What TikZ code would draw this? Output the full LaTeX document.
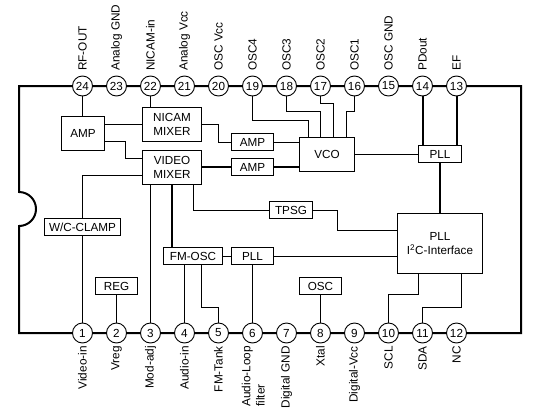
\documentclass[tikz,border=0pt]{standalone}
\usepackage{fontspec}
\setmainfont{Liberation Sans}
\usetikzlibrary{calc}

\begin{document}
\begin{tikzpicture}[x=1pt, y=-1pt, font=\fontsize{11.7}{14}\selectfont,
    box/.style={draw, line width=0.9pt, fill=white, inner sep=0pt, align=center},
    pin/.style={draw, circle, line width=0.9pt, fill=white, inner sep=0pt, minimum size=20pt},
    lab/.style={rotate=90, inner sep=0pt, align=left, font=\fontsize{11.8}{14.4}\selectfont},
    sig/.style={line width=0.9pt},
    bus/.style={line width=2pt}]
    \useasboundingbox (0,0) rectangle (560,413);

    % chip outline with the notch
    \draw[bus, line join=miter] (19,192) -- (19,86) -- (521,86) -- (521,333) -- (19,333) -- (19,226)
        .. controls (28.4,226) and (36,218.4) .. (36,209)
        .. controls (36,199.6) and (28.4,192) .. cycle;

    % pins along the top, labels above them
    \foreach \n/\x/\name in {24/82.5/RF-OUT, 23/116.5/Analog GND, 22/150.5/NICAM-in, 21/184.5/Analog Vcc,
        20/218.5/OSC Vcc, 19/252.5/OSC4, 18/286.5/OSC3, 17/320.5/OSC2, 16/354.5/OSC1, 15/388.5/OSC GND,
        14/422.5/PDout, 13/456.5/EF} {
        \node[pin] (pin\n) at (\x,86) {\n};
        \node[lab, anchor=west] (lab\n) at (\x,71) {\name};
    }

    % pins along the bottom, labels below them
    \foreach \n/\x/\name in {1/82.5/Video-in, 2/116.5/Vreg, 3/150.5/Mod-adj, 4/184.5/Audio-in,
        5/218.5/FM-Tank, 7/286.5/Digital GND, 8/320.5/Xtal, 9/354.5/Digital-Vcc, 10/388.5/SCL,
        11/422.5/SDA, 12/456.5/NC} {
        \node[pin] (pin\n) at (\x,333) {\n};
        \node[lab, anchor=east] (lab\n) at (\x,346) {\name};
    }
    \node[pin] (pin6) at (252.5,333) {6};
    \node[lab, anchor=north east] (lab6) at (241.5,346) {Audio-Loop\\filter};

    % blocks
    \node[box, minimum width=43pt, minimum height=34pt] (amp1) at (83,133.5) {AMP};
    \node[box, minimum width=59pt, minimum height=34pt] (nicam) at (172,124.5) {NICAM\\MIXER};
    \node[box, minimum width=59pt, minimum height=34pt] (video) at (172,167.5) {VIDEO\\MIXER};
    \node[box, minimum width=42pt, minimum height=17pt] (amp2) at (252.5,142) {AMP};
    \node[box, minimum width=42pt, minimum height=17pt] (amp3) at (252.5,167) {AMP};
    \node[box, minimum width=55pt, minimum height=34pt] (vco) at (327,154.5) {VCO};
    \node[box, minimum width=43pt, minimum height=17pt] (pll1) at (440,154) {PLL};
    \node[box, minimum width=43pt, minimum height=17pt] (tpsg) at (291,210) {TPSG};
    \node[box, minimum width=85pt, minimum height=60pt] (pll2) at (440,243.5) {PLL\\I\textsuperscript{2}C-Interface};
    \node[box, minimum width=76pt, minimum height=17pt] (clamp) at (82.5,227) {W/C-CLAMP};
    \node[box, minimum width=42pt, minimum height=17pt] (reg) at (116.5,286) {REG};
    \node[box, minimum width=59pt, minimum height=17pt] (fmosc) at (193,256) {FM-OSC};
    \node[box, minimum width=42pt, minimum height=17pt] (pll3) at (252.5,256) {PLL};
    \node[box, minimum width=42pt, minimum height=17pt] (osc) at (320.5,286) {OSC};

    % thin signal lines
    \draw[sig] (pin24.south) -- (pin24.south |- amp1.north);
    \draw[sig] (pin22.south) -- (pin22.south |- nicam.north);
    \draw[sig] (amp1.east |- 0,124.5) -- (nicam.west |- 0,124.5);
    \draw[sig] (amp1.east |- 0,141.5) -| (125.5,158.5) -- (video.west |- 0,158.5);
    \draw[sig] (nicam.east |- 0,124.5) -| (218.5,142) -- (amp2.west);
    \draw[sig] (amp2.east) -- (vco.west |- amp2.east);
    \draw[sig] (pin19.south) |- (308.5,120.5) -- (308.5,137.5);
    \draw[sig] (pin18.south) |- (320.5,111.5) -- (320.5,137.5);
    \draw[sig] (pin17.south) |- (333.5,103.5) -- (333.5,137.5);
    \draw[sig] (pin16.south) |- (346.5,111.5) -- (346.5,137.5);
    \draw[sig] (vco.east) -- (pll1.west |- vco.east);
    \draw[sig] (tpsg.east) -| (337.5,230.5) -- (pll2.west |- 0,230.5);
    \draw[sig] (video.west |- 0,175.5) -| (clamp.north);
    \draw[sig] (clamp) -- (pin1);
    \draw[sig] (pin3.north |- video.south) -- (pin3);
    \draw[sig] (193.5,184.5) |- (tpsg.west);
    \draw[sig] (fmosc) -- (pll3);
    \draw[sig] (pll3.east) -- (pll2.west |- pll3.east);
    \draw[sig] (pin4.north |- fmosc.south) -- (pin4);
    \draw[sig] (201.5,264.5) |- (218.5,307.5) -- (pin5);
    \draw[sig] (pll3) -- (pin6);
    \draw[sig] (reg) -- (pin2);
    \draw[sig] (osc) -- (pin8);
    \draw[sig] (418.5,273.5) |- (388.5,294.5) -- (pin10);
    \draw[sig] (461.5,273.5) |- (422.5,307.5) -- (pin11);

    % heavy lines
    \draw[bus] (video.east |- amp3.west) -- (amp3.west);
    \draw[bus] (amp3.east) -- (vco.west |- amp3.east);
    \draw[bus] (pin14.south) -- (pin14.south |- pll1.north);
    \draw[bus] (pin13.south) -- (pin13.south |- pll1.north);
    \draw[bus] (pll1.south) -- (pll2.north);
    \draw[bus] (172.3,184.5) -- (172.3,247.5);
\end{tikzpicture}
\end{document}
